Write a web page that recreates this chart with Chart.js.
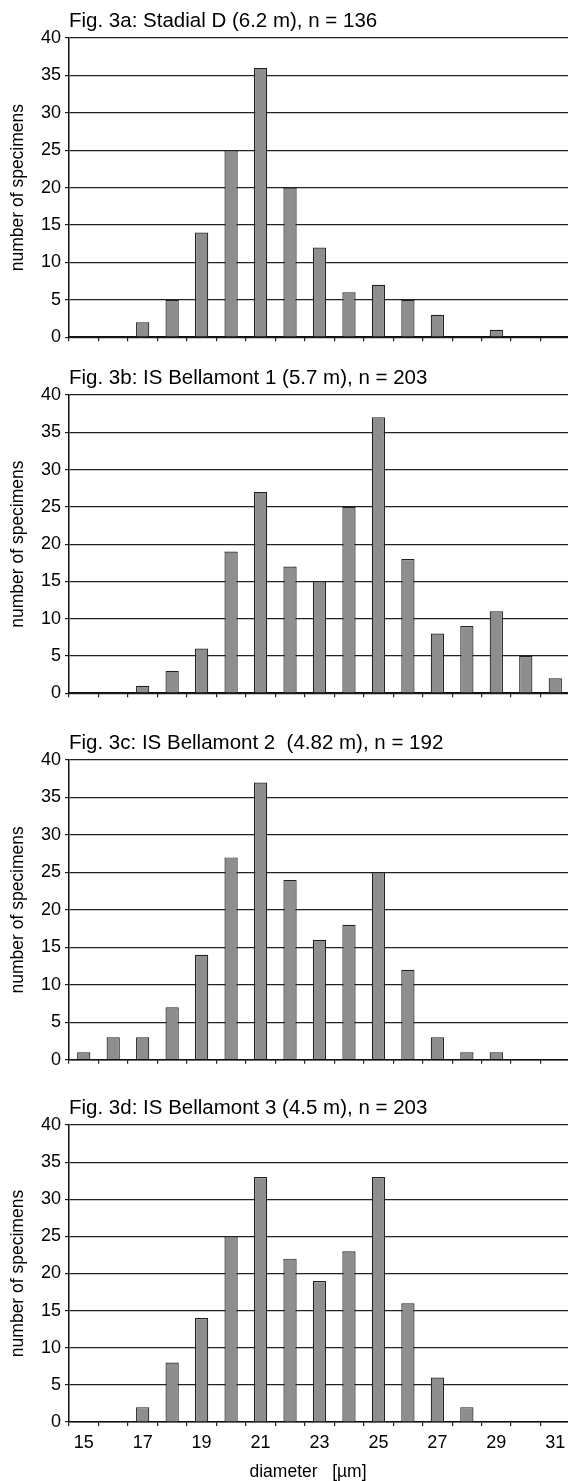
<!DOCTYPE html>
<html>
<head>
<meta charset="utf-8">
<script src="https://cdn.jsdelivr.net/npm/chart.js@4.4.0/dist/chart.umd.min.js"></script>
<style>
  body { margin: 0; width: 568px; height: 1481px; overflow: hidden; background: #fff; position: relative; }
  .panel { position: absolute; left: 0; width: 572px; }
</style>
</head>
<body>
<script>
// diameter classes (µm) and counts per sample
const diameters = ["15", "16", "17", "18", "19", "20", "21", "22", "23", "24", "25", "26", "27", "28", "29", "30", "31"];
const countsStadialD = [0, 0, 2, 5, 14, 25, 36, 20, 12, 6, 7, 5, 3, 0, 1, 0, 0];
const countsBellamont1 = [0, 0, 1, 3, 6, 19, 27, 17, 15, 25, 37, 18, 8, 9, 11, 5, 2];
const countsBellamont2 = [1, 3, 3, 7, 14, 27, 37, 24, 16, 18, 25, 12, 3, 1, 1, 0, 0];
const countsBellamont3 = [0, 0, 2, 8, 14, 25, 33, 22, 19, 23, 33, 16, 6, 2, 0, 0, 0];

const panelTitles = [
  "Fig. 3a: Stadial D (6.2 m), n = 136",
  "Fig. 3b: IS Bellamont 1 (5.7 m), n = 203",
  "Fig. 3c: IS Bellamont 2  (4.82 m), n = 192",
  "Fig. 3d: IS Bellamont 3 (4.5 m), n = 203"
];
const yMax = 40;
const yStep = 5;
const yTitle = "number of specimens";
const xTitle = "diameter   [\u00b5m]";

const allCounts = [countsStadialD, countsBellamont1, countsBellamont2, countsBellamont3];

// where each plot sits on the page
const plotTop = [37.5, 395, 759.5, 1124.5];
const plotH = [300, 299, 300.5, 297];
const PAD_TOP = 34;
const FONT = '"Liberation Sans", Arial, sans-serif';

Chart.defaults.font.family = FONT;
Chart.defaults.color = "#000";

// draws the panel heading (and the x axis title on the last one)
const panelText = {
  id: "panelText",
  afterDraw(chart, args, opts) {
    const { ctx, chartArea } = chart;
    ctx.save();
    ctx.fillStyle = "#000";
    ctx.textBaseline = "middle";
    ctx.textAlign = "left";
    ctx.font = "20.5px " + FONT;
    ctx.fillText(opts.title, chartArea.left, chartArea.top - 17);
    if (opts.xTitle) {
      ctx.textAlign = "center";
      ctx.font = "17.5px " + FONT;
      ctx.fillText(opts.xTitle, 308, chartArea.bottom + 50);
    }
    ctx.restore();
  }
};

allCounts.forEach((counts, i) => {
  const last = i === allCounts.length - 1;
  const axisH = last ? 1481 - (plotTop[i] + plotH[i]) : 14;
  const canvasH = PAD_TOP + plotH[i] + axisH;

  const wrap = document.createElement("div");
  wrap.className = "panel";
  wrap.style.top = (plotTop[i] - PAD_TOP) + "px";
  wrap.style.height = canvasH + "px";
  const canvas = document.createElement("canvas");
  wrap.appendChild(canvas);
  document.body.appendChild(wrap);

  new Chart(canvas.getContext("2d"), {
    type: "bar",
    data: {
      labels: diameters,
      datasets: [{
        data: counts,
        backgroundColor: "#8e8e8e",
        borderColor: "#222",
        borderWidth: 1.2,
        barPercentage: 0.45,
        categoryPercentage: 1
      }]
    },
    options: {
      responsive: true,
      maintainAspectRatio: false,
      animation: false,
      devicePixelRatio: 1,
      layout: { padding: { top: PAD_TOP, left: 0, right: 2, bottom: 0 } },
      plugins: {
        legend: { display: false },
        tooltip: { enabled: false },
        panelText: { title: panelTitles[i], xTitle: last ? xTitle : null }
      },
      scales: {
        x: {
          afterFit: s => { s.height = axisH; },
          grid: { offset: true, drawOnChartArea: false, drawTicks: true, tickLength: 4, color: "#222", lineWidth: 1.2 },
          border: { display: true, color: "#111", width: 1.5 },
          ticks: {
            display: last,
            autoSkip: false,
            maxRotation: 0,
            padding: 6,
            font: { size: 18 },
            color: "#000",
            callback: (val, idx) => idx % 2 === 0 ? diameters[idx] : ""
          }
        },
        y: {
          min: 0,
          max: yMax,
          afterFit: s => { s.width = 69; },
          ticks: { stepSize: yStep, padding: 4, font: { size: 18 }, color: "#000" },
          grid: { color: "#222", lineWidth: 1.2, tickLength: 4 },
          border: { display: true, color: "#111", width: 1.5 },
          title: { display: true, text: yTitle, font: { size: 17.5 }, color: "#000", padding: { top: 8 } }
        }
      }
    },
    plugins: [panelText]
  });
});
</script>
</body>
</html>
